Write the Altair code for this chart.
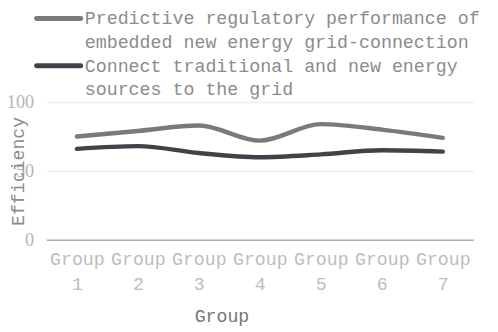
import altair as alt
import pandas as pd

groups = ["Group 1", "Group 2", "Group 3", "Group 4", "Group 5", "Group 6", "Group 7"]
series_names = [
    "Predictive regulatory performance of embedded new energy grid-connection",
    "Connect traditional and new energy sources to the grid",
]
legend_labels = [
    "Predictive regulatory performance of\nembedded new energy grid-connection",
    "Connect traditional and new energy\nsources to the grid",
]
values_a = [75, 79, 83, 72, 84, 80, 74]
values_b = [66, 68, 63, 60, 62, 65, 64]
colors = ["#797a7f", "#41434b"]
y_ticks = [0, 50, 100]

rows = []
for g, a, b in zip(groups, values_a, values_b):
    rows.append({"group": g, "series": series_names[0], "value": a})
    rows.append({"group": g, "series": series_names[1], "value": b})
df = pd.DataFrame(rows)

leg_df = pd.DataFrame({"series": series_names, "label": legend_labels, "idx": [0, 1]})

color = alt.Color("series:N", scale=alt.Scale(domain=series_names, range=colors), legend=None)

MONO = "Liberation Mono"
FS = 18.5

lines = alt.Chart(df).mark_line(interpolate="monotone", strokeWidth=4.5, strokeCap="round").encode(
    x=alt.X("group:N", sort=groups, scale=alt.Scale(type="point", padding=0.5),
            axis=alt.Axis(title="Group", labelAngle=0, labelExpr="split(datum.label, ' ')",
                          labelFont=MONO, labelFontSize=FS, labelColor="#bdbdbd",
                          labelLineHeight=26, labelPadding=10, ticks=False, grid=False,
                          domain=True, domainColor="#adadad", domainWidth=1.5,
                          titleFont=MONO, titleFontSize=FS, titleColor="#777777",
                          titleFontWeight="normal", titleX=178, titleY=77,
                          titleBaseline="middle", titleAlign="center")),
    y=alt.Y("value:Q", scale=alt.Scale(domain=[0, 100]),
            axis=alt.Axis(title="Efficiency", values=y_ticks, grid=True, gridColor="#eeeeee",
                          gridWidth=1.5, domain=False, ticks=False,
                          labelFont="Liberation Serif", labelFontSize=FS, labelColor="#b5b5b5",
                          labelPadding=13, titleFont=MONO, titleFontSize=FS,
                          titleColor="#8c8c8c", titleFontWeight="normal", titleX=-29,
                          titleY=70, titleBaseline="middle", titleAlign="center")),
    color=color,
)

leg_base = alt.Chart(leg_df).transform_calculate(
    sy="-85 + 48 * datum.idx"
)
leg_sym = leg_base.mark_rule(strokeWidth=5, strokeCap="round").encode(
    x=alt.value(-10), x2=alt.value(35), y=alt.Y("sy:Q", scale=None), color=color
)
leg_txt = leg_base.mark_text(align="left", baseline="middle", lineBreak="\n", lineHeight=24,
                             font=MONO, fontSize=18.6, color="#8c8c8c").encode(
    x=alt.value(39), y=alt.Y("sy:Q", scale=None), text="label:N"
)

chart = alt.layer(lines, leg_sym, leg_txt).properties(
    width=434, height=140,
    autosize=alt.AutoSizeParams(type="none"),
    padding={"left": 39, "top": 93, "right": 17, "bottom": 85},
).configure_view(stroke=None)

chart.save("out.html", embed_options={"renderer": "svg", "actions": False})
